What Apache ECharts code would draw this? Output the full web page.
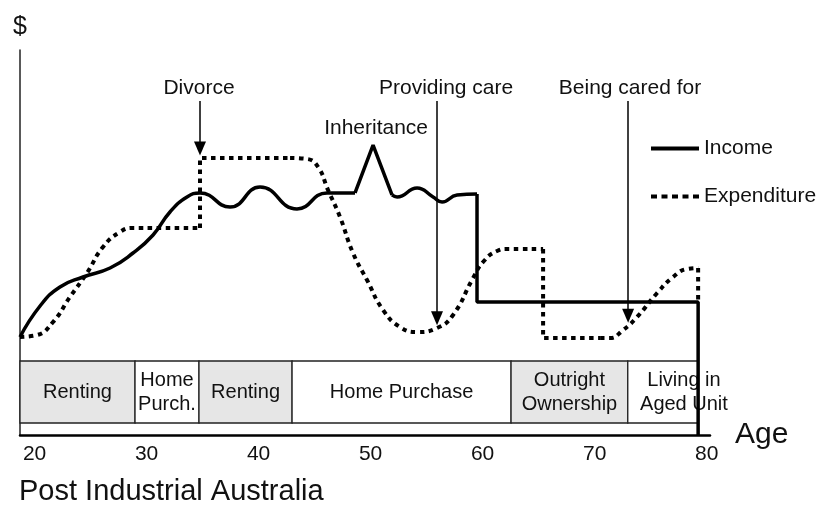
<!DOCTYPE html>
<html>
<head>
<meta charset="utf-8">
<script src="https://cdn.jsdelivr.net/npm/echarts@6/dist/echarts.min.js"></script>
<style>
html, body { margin: 0; padding: 0; background: #fff; }
#chart { width: 819px; height: 512px; }
</style>
</head>
<body>
<div id="chart"></div>
<script>
// values, as [age, $] pairs ($ is a 0-100 relative scale)
var incomeRise = [[18.70, 25.45], [20.49, 33.51], [22.27, 38.44], [24.33, 41.04], [26.74, 43.38],
    [28.79, 47.27], [30.58, 51.95], [32.09, 57.92], [33.61, 61.82], [34.77, 62.86], [37.45, 59.22],
    [40.13, 64.42], [43.43, 58.70], [46.11, 62.86], [48.61, 62.86]];
var incomeSpike = [[48.61, 62.86], [50.22, 75.32], [51.91, 62.34]];
var incomeLate = [[51.91, 62.34], [52.36, 61.82], [54.15, 64.16], [55.58, 61.82], [56.38, 60.52],
    [57.72, 62.34], [59.50, 62.60]];
var incomeRetired = [[59.50, 62.60], [59.50, 34.55], [79.24, 34.55], [79.24, 0]];

var spendEarly = [[18.70, 25.45], [20.22, 25.97], [21.65, 29.35], [23.16, 35.84], [24.68, 42.08],
    [26.11, 48.83], [27.63, 52.73], [28.79, 53.77], [31.20, 53.77], [34.77, 53.77]];
var spendDivorce = [[34.77, 53.77], [34.77, 71.95], [42.81, 71.95]];
var spendMid = [[42.81, 71.95], [44.33, 71.69], [45.31, 69.61], [46.20, 63.64], [47.27, 56.62],
    [48.43, 47.27], [49.68, 40.26], [51.11, 32.47], [52.63, 28.05], [54.15, 26.75], [55.93, 27.79],
    [57.36, 31.17], [59.15, 40.78], [60.04, 44.94], [61.29, 47.79], [62.18, 48.31], [65.40, 48.31]];
var spendDrop = [[65.40, 48.31], [65.40, 25.19], [70.49, 25.19]];
var spendLate = [[70.49, 25.19], [71.38, 25.19], [72.54, 27.27], [73.79, 30.65], [75.58, 36.88],
    [77.00, 41.04], [78.25, 43.12], [79.24, 43.38]];
var spendEnd = [[79.24, 43.38], [79.24, 34.55]];

// housing tenure strip
var tenureEdges = [18.70, 28.97, 34.68, 42.99, 62.54, 72.96, 79.24];
var tenureLabels = ['Renting', 'Home\nPurch.', 'Renting', 'Home Purchase', 'Outright\nOwnership', 'Living in\nAged Unit'];
var tenureShaded = [true, false, true, false, true, false];
var tenureBand = [3.12, 19.22];

// life events
var eventText = ['Divorce', 'Inheritance', 'Providing care', 'Being cared for'];
var eventTextAge = [34.68, 50.49, 56.74, 73.16];
var eventTextValue = [90.13, 79.74, 90.13, 90.13];
var arrowAge = [34.77, 55.93, 72.99];
var arrowFrom = [86.75, 86.75, 86.75];
var arrowTo = [74.4, 30.3, 31.0];

var ageTicks = [20, 30, 40, 50, 60, 70, 80];

var font = 'Liberation Sans, Arial, sans-serif';
var chart = echarts.init(document.getElementById('chart'));

function piece(name, data, smooth, dotted) {
    return {
        name: name,
        type: 'line',
        data: data,
        smooth: smooth ? 0.5 : false,
        symbol: 'none',
        silent: true,
        lineStyle: {
            color: '#000',
            width: dotted ? 4 : 3.5,
            type: dotted ? [4.5, 4.5] : 'solid'
        },
        itemStyle: { color: '#000' }
    };
}

var bands = tenureLabels.map(function (lab, i) {
    return [
        {
            name: lab,
            xAxis: tenureEdges[i],
            yAxis: tenureBand[1],
            itemStyle: { color: tenureShaded[i] ? '#e6e6e6' : '#fff', borderColor: '#222', borderWidth: 1.3 },
            label: i === tenureLabels.length - 1 ? { offset: [21, 0] } : {}
        },
        { xAxis: tenureEdges[i + 1], yAxis: tenureBand[0] }
    ];
});

var arrows = arrowAge.map(function (a, i) {
    return [{ coord: [a, arrowFrom[i]] }, { coord: [a, arrowTo[i]] }];
});

var notes = eventText.map(function (t, i) {
    return { name: t, coord: [eventTextAge[i], eventTextValue[i]] };
});

var series = [
    piece('Income', incomeRise, true, false),
    piece('Income', incomeSpike, false, false),
    piece('Income', incomeLate, true, false),
    piece('Income', incomeRetired, false, false),
    piece('Expenditure', spendEarly, true, true),
    piece('Expenditure', spendDivorce, false, true),
    piece('Expenditure', spendMid, true, true),
    piece('Expenditure', spendDrop, false, true),
    piece('Expenditure', spendLate, true, true),
    piece('Expenditure', spendEnd, false, true),
    {
        name: 'tenure',
        type: 'line',
        data: [],
        silent: true,
        z: 1,
        markArea: {
            silent: true,
            label: {
                show: true,
                position: 'inside',
                fontFamily: font,
                fontSize: 20,
                lineHeight: 24,
                color: '#111'
            },
            data: bands
        }
    },
    {
        name: 'events',
        type: 'line',
        data: [],
        silent: true,
        markLine: {
            silent: true,
            animation: false,
            symbol: ['none', 'triangle'],
            symbolSize: [12, 14],
            label: { show: false },
            lineStyle: { color: '#000', width: 1.5, type: 'solid' },
            data: arrows
        },
        markPoint: {
            silent: true,
            symbol: 'rect',
            symbolSize: 1,
            itemStyle: { color: 'rgba(0,0,0,0)' },
            label: {
                show: true,
                position: 'inside',
                formatter: '{b}',
                fontFamily: font,
                fontSize: 21,
                color: '#111'
            },
            data: notes
        }
    }
];

var option = {
    animation: false,
    backgroundColor: '#fff',
    title: {
        text: 'Post Industrial Australia',
        left: 14,
        top: 472,
        textStyle: { fontFamily: font, fontSize: 29, fontWeight: 'normal', color: '#111' }
    },
    legend: {
        data: [
            { name: 'Income', icon: 'rect' },
            { name: 'Expenditure', icon: 'path://M0,0h6v4h-6zM10.5,0h6v4h-6zM21,0h6v4h-6zM31.5,0h6v4h-6zM42,0h6v4h-6z' }
        ],
        orient: 'vertical',
        left: 646,
        top: 133,
        itemWidth: 48,
        itemHeight: 4,
        itemGap: 27,
        itemStyle: { color: '#000', borderWidth: 0 },
        textStyle: { fontFamily: font, fontSize: 21, color: '#111' }
    },
    grid: { left: 20, right: 109, top: 50, bottom: 77 },
    xAxis: {
        type: 'value',
        min: 18.7,
        max: 80.3,
        name: 'Age',
        nameLocation: 'end',
        nameGap: 25,
        nameTextStyle: { fontFamily: font, fontSize: 30, color: '#111' },
        axisLine: { lineStyle: { color: '#000', width: 2.5 } },
        axisTick: { show: false },
        splitLine: { show: false },
        axisLabel: {
            customValues: ageTicks,
            margin: 9,
            fontFamily: font,
            fontSize: 21,
            color: '#111'
        }
    },
    yAxis: {
        type: 'value',
        min: 0,
        max: 100,
        name: '$',
        nameLocation: 'end',
        nameGap: 10,
        nameTextStyle: { fontFamily: font, fontSize: 25, color: '#111' },
        axisLine: { show: true, lineStyle: { color: '#222', width: 1.5 } },
        axisTick: { show: false },
        axisLabel: { show: false },
        splitLine: { show: false }
    },
    series: series
};

chart.setOption(option);
</script>
</body>
</html>
